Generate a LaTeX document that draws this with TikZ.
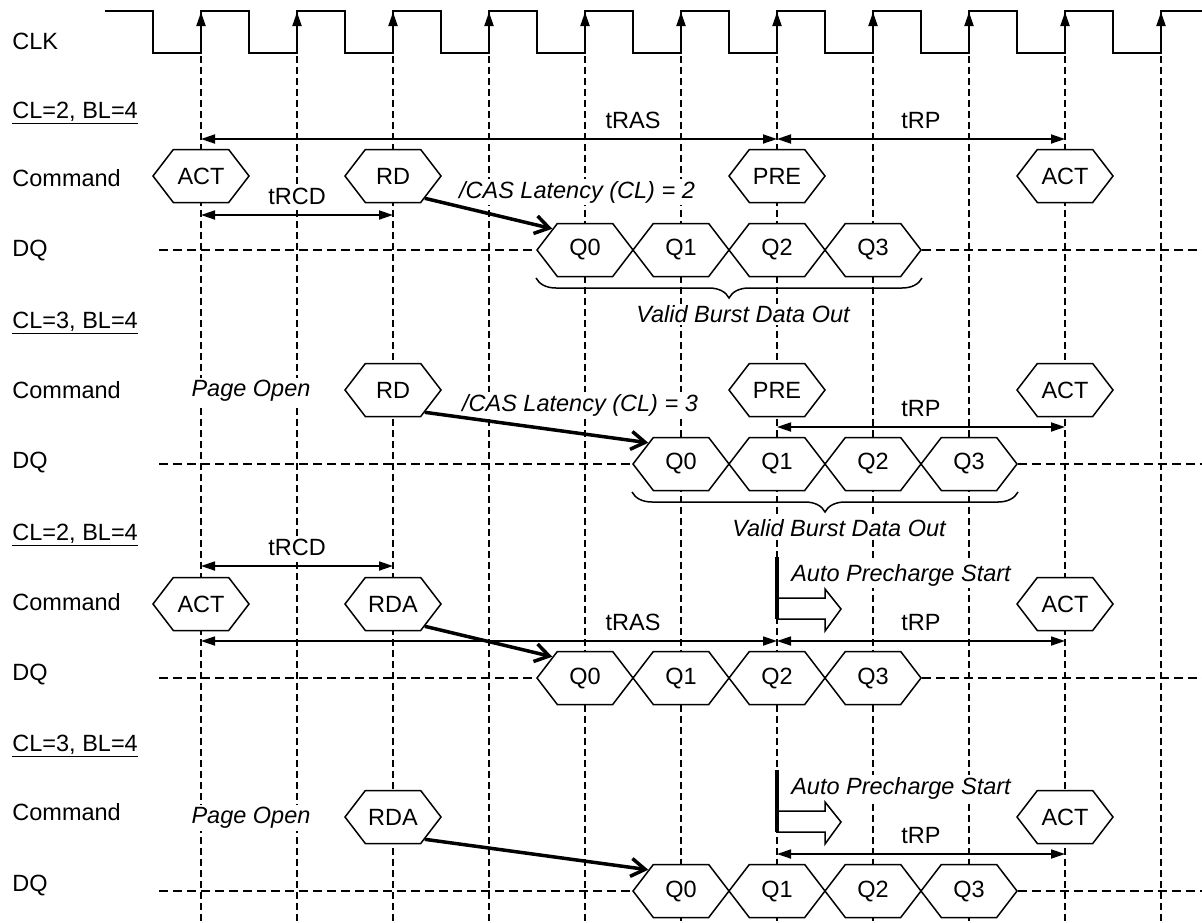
\documentclass[tikz,border=0pt]{standalone}
\usepackage{fontspec}
\setmainfont{Liberation Sans}
\usepackage{tikz}
\usetikzlibrary{positioning,calc,arrows.meta,shapes.symbols,decorations.pathreplacing}
\AtBeginDocument{\fontsize{11.75}{14}\selectfont}
\tikzstyle{hexa} = [draw, fill=white, line width=0.75pt, signal, signal to=west and east, signal pointer angle=105, minimum width=48pt, minimum height=26.5pt, inner sep=0pt]
\tikzstyle{lbl} = [anchor=base west, inner sep=0pt]
\tikzstyle{ital} = [font=\itshape, fill=white, inner sep=1pt]
\tikzstyle{tlbl} = [fill=white, inner sep=1pt, above=3.5pt]
\tikzstyle{dim} = [{Triangle[length=7pt,width=4.5pt]}-{Triangle[length=7pt,width=4.5pt]}, line width=0.9pt]
\tikzstyle{lat} = [-{Straight Barb[length=7pt,width=9pt]}, line width=1.75pt]
\tikzstyle{vguide} = [dash pattern=on 3.5pt off 2pt, line width=0.85pt]
\tikzstyle{hguide} = [dash pattern=on 4.5pt off 2.5pt, line width=0.85pt]
\tikzstyle{clk} = [line width=1pt]
\tikzstyle{rise} = [-{Triangle[length=7pt,width=4.5pt]}, line width=1pt]
\tikzstyle{brc} = [decorate, decoration={brace, mirror, amplitude=10pt}, line width=0.75pt]
\tikzstyle{apbar} = [line width=2pt]
\tikzstyle{hollow} = [line width=0.75pt, fill=white, line join=miter]
\begin{document}
\begin{tikzpicture}[x=0.5pt, y=-0.5pt, node distance=48pt]
	\useasboundingbox (0,0) rectangle (1202,922);
	% clock
	\draw [clk] (105,11) -| (153,53) -| (201,11) -| (249,53) -| (297,11) -| (345,53) -| (393,11) -| (441,53) -| (489,11) -| (537,53) -| (585,11) -| (633,53) -| (681,11) -| (729,53) -| (777,11) -| (825,53) -| (873,11) -| (921,53) -| (969,11) -| (1017,53) -| (1065,11) -| (1113,53) -| (1161,11) -- (1202,11);
	\draw [rise] (201,53) -- (201,12);
	\draw [rise] (297,53) -- (297,12);
	\draw [rise] (393,53) -- (393,12);
	\draw [rise] (489,53) -- (489,12);
	\draw [rise] (585,53) -- (585,12);
	\draw [rise] (681,53) -- (681,12);
	\draw [rise] (777,53) -- (777,12);
	\draw [rise] (873,53) -- (873,12);
	\draw [rise] (969,53) -- (969,12);
	\draw [rise] (1065,53) -- (1065,12);
	\draw [rise] (1161,53) -- (1161,12);
	%
	\draw [vguide] (201,56) -- (201,922) (297,56) -- (297,922) (393,56) -- (393,922) (489,56) -- (489,922) (585,56) -- (585,922) (681,56) -- (681,922) (777,56) -- (777,922) (873,56) -- (873,922) (969,56) -- (969,922) (1065,56) -- (1065,922) (1161,56) -- (1161,922);
	%
	\node (clk) [lbl] at (12,49) {CLK};
	%
	% CL=2, BL=4
	\node (clA) [lbl] at (12,118) {\underline{CL=2, BL=4}};
	\node (cmdA) [lbl] at (12,186) {Command};
	\node (dqlA) [lbl] at (12,256) {DQ};
	%
	\node (actA1) [hexa] at (201,176) {ACT};
	\node (rdA) [hexa] at (393,176) {RD};
	\node (preA) [hexa] at (777,176) {PRE};
	\node (actA2) [hexa] at (1065,176) {ACT};
	%
	\node (qA0) [hexa] at (585,250) {Q0};
	\node (qA1) [hexa,right of=qA0] {Q1};
	\node (qA2) [hexa,right of=qA1] {Q2};
	\node (qA3) [hexa,right of=qA2] {Q3};
	%
	\coordinate (dqA) at (159,250);
	\coordinate (dqAe) at (1202,250);
	\draw [hguide] (dqA) -- (qA0.west);
	\draw [hguide] (qA3.east) -- (dqAe);
	%
	\node (casA) [ital] at (577,192) {/CAS Latency (CL) = 2};
	\draw [lat] (rdA.-35) -- (qA0.147);
	%
	\draw [dim] ([yshift=18.5pt]actA1.center) -- node (trasA) [tlbl,pos=0.75] {tRAS} ([yshift=18.5pt]preA.center);
	\draw [dim] ([yshift=18.5pt]preA.center) -- node (trpA) [tlbl,midway] {tRP} ([yshift=18.5pt]actA2.center);
	\draw [dim] ([yshift=-19.5pt]actA1.center) -- node (trcdA) [tlbl,midway] {tRCD} ([yshift=-19.5pt]rdA.center);
	\draw [brc] ([yshift=-14pt]qA0.west) -- node (vbA) [ital,below=12.5pt,xshift=7pt] {Valid Burst Data Out} ([yshift=-14pt]qA3.east);
	%
	% CL=3, BL=4
	\node (clB) [lbl] at (12,328) {\underline{CL=3, BL=4}};
	\node (cmdB) [lbl] at (12,398) {Command};
	\node (dqlB) [lbl] at (12,468) {DQ};
	%
	\node (poB) [ital] at (251,391) {Page Open};
	\node (rdB) [hexa] at (393,390) {RD};
	\node (preB) [hexa] at (777,390) {PRE};
	\node (actB2) [hexa] at (1065,390) {ACT};
	%
	\node (qB0) [hexa] at (681,464) {Q0};
	\node (qB1) [hexa,right of=qB0] {Q1};
	\node (qB2) [hexa,right of=qB1] {Q2};
	\node (qB3) [hexa,right of=qB2] {Q3};
	%
	\coordinate (dqB) at (159,464);
	\coordinate (dqBe) at (1202,464);
	\draw [hguide] (dqB) -- (qB0.west);
	\draw [hguide] (qB3.east) -- (dqBe);
	%
	\node (casB) [ital] at (580,405) {/CAS Latency (CL) = 3};
	\draw [lat] (rdB.-35) -- (qB0.147);
	%
	\draw [dim] ([yshift=-18.5pt]preB.center) -- node (trpB) [tlbl,midway] {tRP} ([yshift=-18.5pt]actB2.center);
	\draw [brc] ([yshift=-14pt]qB0.west) -- node (vbB) [ital,below=12.5pt,xshift=7pt] {Valid Burst Data Out} ([yshift=-14pt]qB3.east);
	%
	% CL=2, BL=4, auto precharge
	\node (clC) [lbl] at (12,540) {\underline{CL=2, BL=4}};
	\node (cmdC) [lbl] at (12,610) {Command};
	\node (dqlC) [lbl] at (12,680) {DQ};
	%
	\node (actC1) [hexa] at (201,604) {ACT};
	\node (rdaC) [hexa] at (393,604) {RDA};
	\node (actC2) [hexa] at (1065,604) {ACT};
	\coordinate (apC) at (777,604);
	\node (apsC) [ital] at (901,575) {Auto Precharge Start};
	\draw [hollow] (apC) ++(0,-6) -- ++(48,0) -- ++(0,-9) -- ++(16,20) -- ++(-16,22) -- ++(0,-12) -- ++(-48,0);
	\draw [apbar] ([yshift=23.5pt]apC) -- ([yshift=-7.5pt]apC);
	%
	\node (qC0) [hexa] at (585,678) {Q0};
	\node (qC1) [hexa,right of=qC0] {Q1};
	\node (qC2) [hexa,right of=qC1] {Q2};
	\node (qC3) [hexa,right of=qC2] {Q3};
	%
	\coordinate (dqC) at (159,678);
	\coordinate (dqCe) at (1202,678);
	\draw [hguide] (dqC) -- (qC0.west);
	\draw [hguide] (qC3.east) -- (dqCe);
	%
	\draw [dim] ([yshift=19pt]actC1.center) -- node (trcdC) [tlbl,midway] {tRCD} ([yshift=19pt]rdaC.center);
	\draw [dim] ([yshift=-18.5pt]actC1.center) -- node (trasC) [tlbl,pos=0.75] {tRAS} ([yshift=-18.5pt]apC);
	\draw [dim] ([yshift=-18.5pt]apC) -- node (trpC) [tlbl,midway] {tRP} ([yshift=-18.5pt]actC2.center);
	\draw [lat] (rdaC.-35) -- (qC0.147);
	%
	% CL=3, BL=4, auto precharge
	\node (clD) [lbl] at (12,751) {\underline{CL=3, BL=4}};
	\node (cmdD) [lbl] at (12,820) {Command};
	\node (dqlD) [lbl] at (12,891) {DQ};
	%
	\node (poD) [ital] at (251,818) {Page Open};
	\node (rdaD) [hexa] at (393,817) {RDA};
	\node (actD2) [hexa] at (1065,817) {ACT};
	\coordinate (apD) at (777,817);
	\node (apsD) [ital] at (901,788) {Auto Precharge Start};
	\draw [hollow] (apD) ++(0,-6) -- ++(48,0) -- ++(0,-9) -- ++(16,20) -- ++(-16,22) -- ++(0,-12) -- ++(-48,0);
	\draw [apbar] ([yshift=23.5pt]apD) -- ([yshift=-7.5pt]apD);
	%
	\node (qD0) [hexa] at (681,891) {Q0};
	\node (qD1) [hexa,right of=qD0] {Q1};
	\node (qD2) [hexa,right of=qD1] {Q2};
	\node (qD3) [hexa,right of=qD2] {Q3};
	%
	\coordinate (dqD) at (159,891);
	\coordinate (dqDe) at (1202,891);
	\draw [hguide] (dqD) -- (qD0.west);
	\draw [hguide] (qD3.east) -- (dqDe);
	%
	\draw [dim] ([yshift=-18.5pt]apD) -- node (trpD) [tlbl,midway] {tRP} ([yshift=-18.5pt]actD2.center);
	\draw [lat] (rdaD.-35) -- (qD0.147);
\end{tikzpicture}
\end{document}
